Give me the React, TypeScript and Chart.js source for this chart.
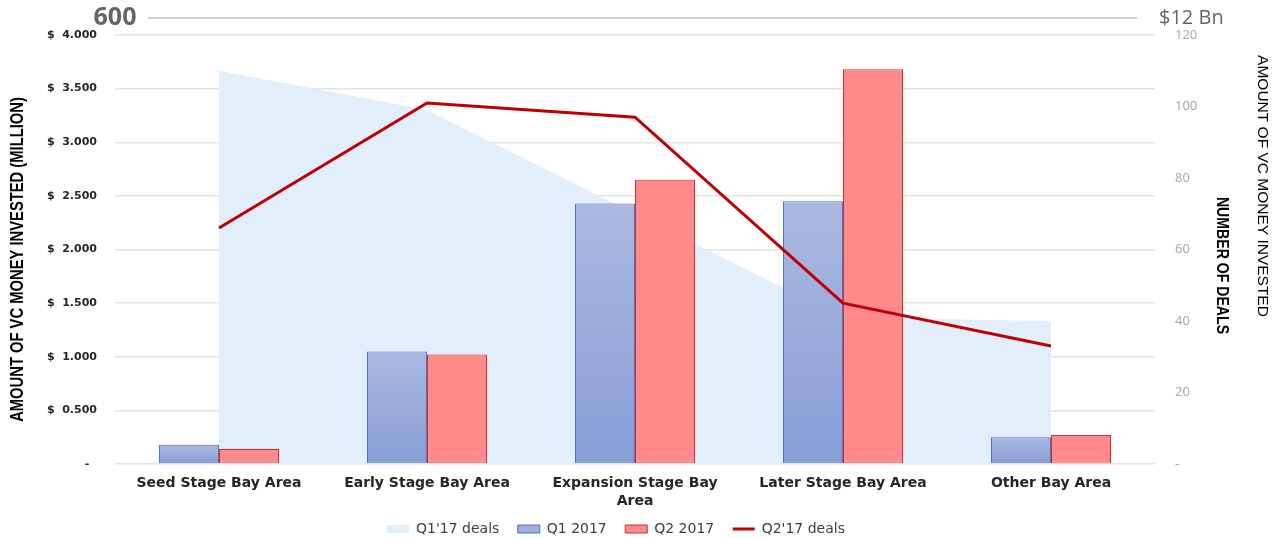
import React, { useEffect, useRef } from 'react'
import { Chart, registerables } from 'chart.js'

Chart.register(...registerables)

// Data
const categories: (string | string[])[] = [
  'Seed Stage Bay Area',
  'Early Stage Bay Area',
  ['Expansion Stage Bay', 'Area'],
  'Later Stage Bay Area',
  'Other Bay Area'
]
const q1Amount = [0.18, 1.05, 2.43, 2.45, 0.25]
const q2Amount = [0.14, 1.02, 2.65, 3.68, 0.27]
const q1Deals = [110, 99, 70, 41, 40]
const q2Deals = [66, 101, 97, 45, 33]

const amountTickLabels = ['-  ', '$  0.500', '$  1.000', '$  1.500', '$  2.000', '$  2.500', '$  3.000', '$  3.500', '$  4.000']
const dealTickLabels = ['-', '20', '40', '60', '80', '100', '120']

const legendStyles = [
  { fillStyle: '#e3eefc', strokeStyle: 'rgba(0,0,0,0)', lineWidth: 0, pointStyle: 'rect' },
  { fillStyle: '#9fb0dd', strokeStyle: '#4a72c6', lineWidth: 1, pointStyle: 'rect' },
  { fillStyle: '#ff8b8b', strokeStyle: '#d42c2c', lineWidth: 1, pointStyle: 'rect' },
  { fillStyle: '#c00000', strokeStyle: '#c00000', lineWidth: 3, pointStyle: 'line' }
]

// gradient per bar, lighter at the top
const barGradient = (top: string, bottom: string, solid: string) => (ctx: any) => {
  const chart = ctx.chart
  const y = chart.scales?.y
  if (!y || typeof ctx.raw !== 'number') return solid
  const yTop = y.getPixelForValue(ctx.raw)
  const yBottom = y.getPixelForValue(0)
  if (!isFinite(yTop) || !isFinite(yBottom) || yTop === yBottom) return solid
  const g = chart.ctx.createLinearGradient(0, yTop, 0, yBottom)
  g.addColorStop(0, top)
  g.addColorStop(1, bottom)
  return g
}

// rotated text squeezed along its length to look like a condensed face
const drawRotated = (ctx: any, text: string, x: number, y: number, angle: number, font: string, squeeze: number) => {
  ctx.save()
  ctx.translate(x, y)
  ctx.rotate(angle)
  ctx.scale(squeeze, 1)
  ctx.font = font
  ctx.fillStyle = '#000000'
  ctx.textAlign = 'center'
  ctx.textBaseline = 'middle'
  ctx.fillText(text, 0, 0)
  ctx.restore()
}

const extrasPlugin = {
  id: 'extras',
  afterDraw(chart: any) {
    const { ctx } = chart
    ctx.save()
    ctx.strokeStyle = '#d3d3d3'
    ctx.lineWidth = 2
    ctx.beginPath()
    ctx.moveTo(148, 18)
    ctx.lineTo(1137, 18)
    ctx.stroke()

    ctx.fillStyle = '#666666'
    ctx.textBaseline = 'middle'
    ctx.textAlign = 'center'
    ctx.font = 'bold 25px "Open Sans", sans-serif'
    ctx.fillText('600', 115, 18)
    ctx.textAlign = 'left'
    ctx.font = '20px "Open Sans", sans-serif'
    ctx.fillText('$12 Bn', 1159, 18)
    ctx.restore()

    const area = chart.chartArea
    const mid = (area.top + area.bottom) / 2
    drawRotated(ctx, 'AMOUNT OF VC MONEY INVESTED (MILLION)', 18, mid + 10, -Math.PI / 2,
      'bold 18px "Liberation Sans", Arial, sans-serif', 0.82)
    drawRotated(ctx, 'NUMBER OF DEALS', 1222, mid + 16, Math.PI / 2,
      'bold 17px "Liberation Sans", Arial, sans-serif', 0.83)
    drawRotated(ctx, 'AMOUNT OF VC MONEY INVESTED', 1262, 186, Math.PI / 2,
      '15.5px "Liberation Sans", Arial, sans-serif', 1)
  }
}

export default function App() {
  const canvasRef = useRef<HTMLCanvasElement>(null)

  useEffect(() => {
    document.body.style.margin = '0'
    if (!canvasRef.current) return

    const chart = new Chart(canvasRef.current, {
      type: 'bar',
      data: {
        labels: categories,
        datasets: [
          {
            type: 'line',
            label: "Q1'17 deals ",
            data: q1Deals,
            yAxisID: 'y1',
            fill: 'origin',
            backgroundColor: '#e3eefc',
            borderWidth: 0,
            borderColor: 'rgba(0,0,0,0)',
            pointRadius: 0,
            tension: 0,
            order: 3
          },
          {
            type: 'bar',
            label: 'Q1 2017 ',
            data: q1Amount,
            yAxisID: 'y',
            backgroundColor: barGradient('#abb8e1', '#879ed6', '#9fb0dd'),
            borderColor: '#4a72c6',
            borderWidth: 1,
            order: 1
          },
          {
            type: 'bar',
            label: 'Q2 2017 ',
            data: q2Amount,
            yAxisID: 'y',
            backgroundColor: '#ff8b8b',
            borderColor: '#d42c2c',
            borderWidth: 1,
            order: 1
          },
          {
            type: 'line',
            label: "Q2'17 deals",
            data: q2Deals,
            yAxisID: 'y1',
            fill: false,
            borderColor: '#c00000',
            backgroundColor: '#c00000',
            borderWidth: 3,
            pointRadius: 0,
            tension: 0,
            order: 0
          }
        ]
      },
      options: {
        responsive: true,
        maintainAspectRatio: false,
        animation: false,
        events: [],
        datasets: {
          bar: { categoryPercentage: 0.577, barPercentage: 1 }
        },
        layout: { padding: { top: 35, right: 50, left: 0, bottom: -8 } },
        scales: {
          x: {
            grid: { display: false, drawTicks: false },
            border: { display: false },
            afterFit: (scale: any) => { scale.height = 44 },
            ticks: {
              padding: 10,
              color: '#262626',
              maxRotation: 0,
              autoSkip: false,
              font: { family: '"DejaVu Sans", Verdana, sans-serif', size: 14, weight: 'bold', lineHeight: 1.3 }
            }
          },
          y: {
            position: 'left',
            min: 0,
            max: 4,
            afterFit: (scale: any) => { scale.width = 115 },
            ticks: {
              stepSize: 0.5,
              padding: 18,
              color: '#262626',
              font: { family: '"DejaVu Sans", Verdana, sans-serif', size: 11, weight: 'bold' },
              callback: (_v: any, i: number) => amountTickLabels[i]
            },
            grid: { color: '#e4e4e4', lineWidth: 1.5, drawTicks: false },
            border: { display: false }
          },
          y1: {
            position: 'right',
            min: 0,
            max: 120,
            afterFit: (scale: any) => { scale.width = 77 },
            ticks: {
              stepSize: 20,
              padding: 20,
              color: '#a6a6a6',
              font: { family: '"Open Sans", sans-serif', size: 13 },
              callback: (_v: any, i: number) => dealTickLabels[i]
            },
            grid: { display: false, drawTicks: false },
            border: { display: false }
          }
        },
        plugins: {
          legend: {
            position: 'bottom',
            labels: {
              usePointStyle: true,
              pointStyleWidth: 22,
              boxWidth: 22,
              boxHeight: 8,
              padding: 14,
              color: '#404040',
              font: { family: '"DejaVu Sans", Verdana, sans-serif', size: 14 },
              sort: (a: any, b: any) => a.datasetIndex - b.datasetIndex,
              generateLabels: (c: any) => {
                const items = Chart.defaults.plugins.legend.labels.generateLabels(c)
                return items.map((it: any) => ({ ...it, ...legendStyles[it.datasetIndex] }))
              }
            }
          },
          tooltip: { enabled: false }
        }
      },
      plugins: [extrasPlugin]
    } as any)

    return () => {
      chart.destroy()
    }
  }, [])

  return (
    <div style={{ position: 'relative', width: 1282, height: 538 }}>
      <canvas ref={canvasRef} />
    </div>
  )
}
